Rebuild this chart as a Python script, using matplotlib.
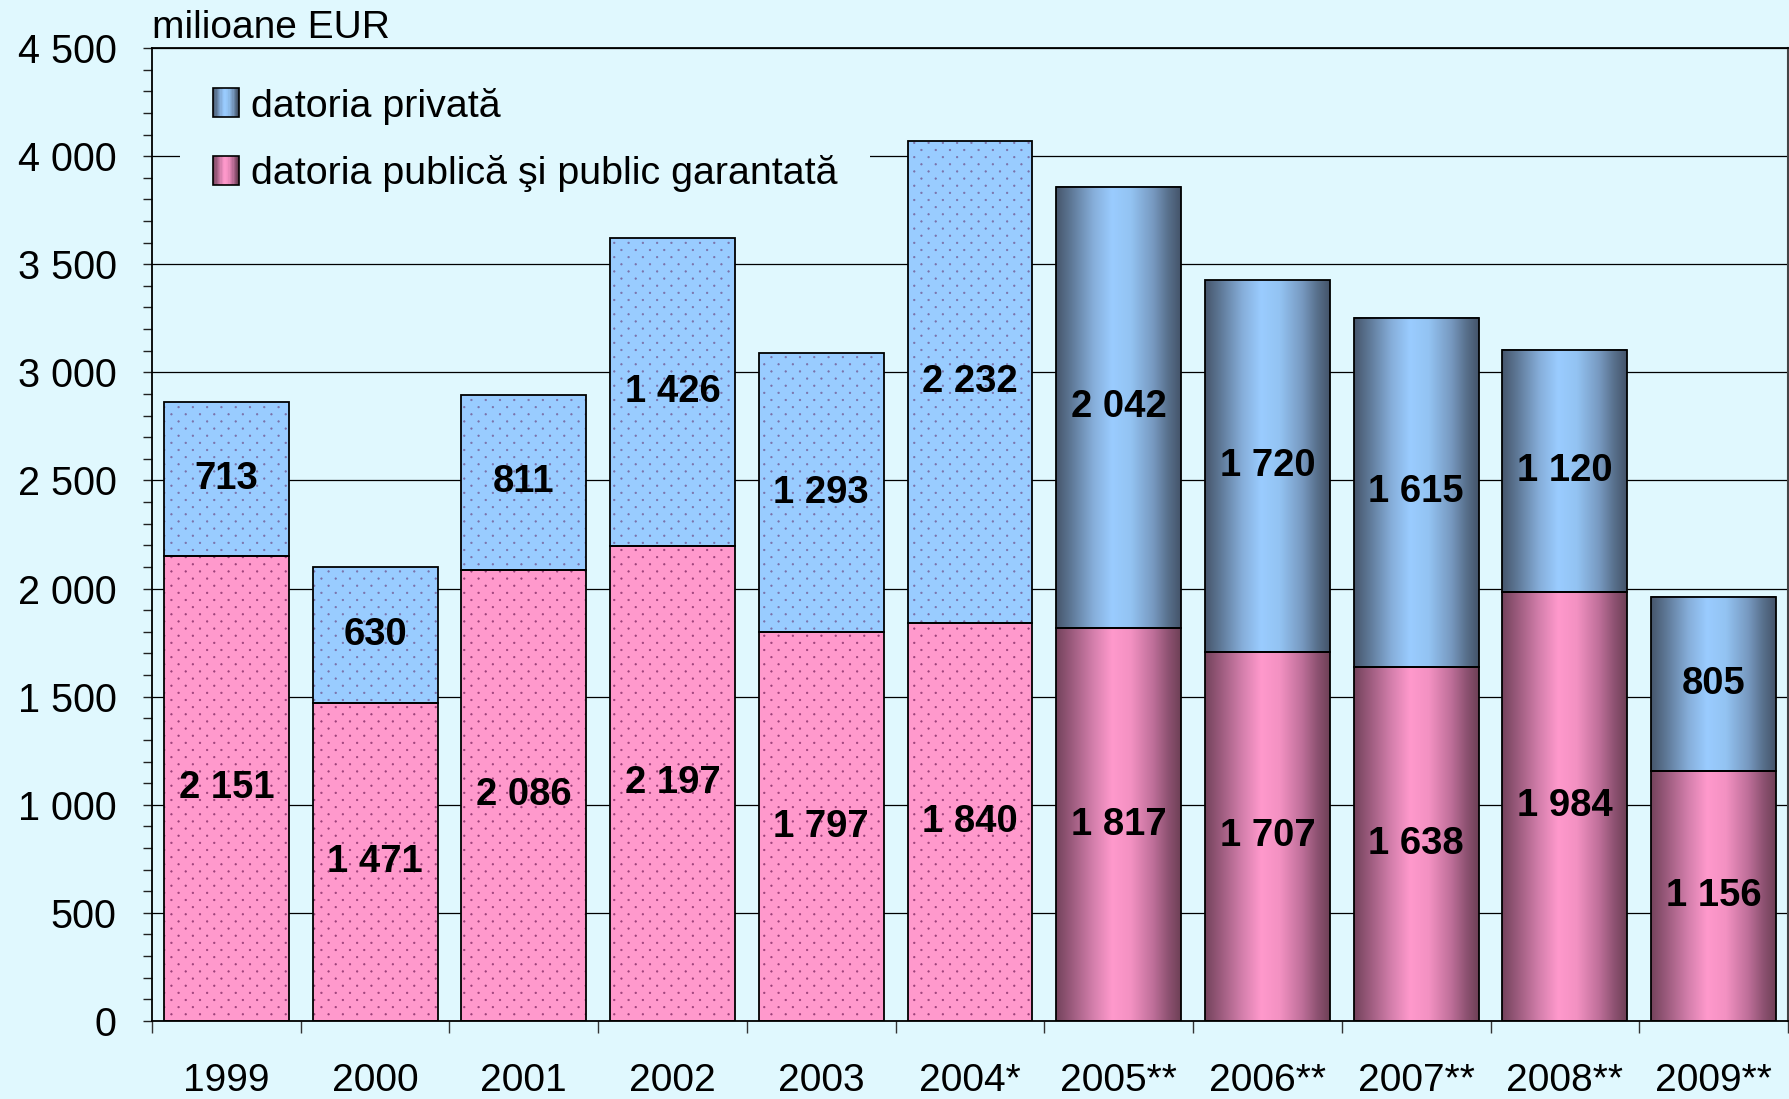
import numpy as np
import matplotlib
matplotlib.use("Agg")
import matplotlib.pyplot as plt
import matplotlib.hatch as mhatch
from matplotlib.path import Path
from matplotlib.legend_handler import HandlerBase
from matplotlib.patches import Rectangle
from matplotlib.ticker import MultipleLocator, FixedLocator, FuncFormatter
from matplotlib.colors import to_rgb

# ---------------- data ----------------
years = ["1999", "2000", "2001", "2002", "2003", "2004*",
         "2005**", "2006**", "2007**", "2008**", "2009**"]
public_debt = [2151, 1471, 2086, 2197, 1797, 1840, 1817, 1707, 1638, 1984, 1156]
private_debt = [713, 630, 811, 1426, 1293, 2232, 2042, 1720, 1615, 1120, 805]
series_names = ["datoria privată", "datoria publică şi public garantată"]
unit_label = "milioane EUR"

# ---------------- style ----------------
plt.rcParams['font.family'] = ['Liberation Sans', 'DejaVu Sans']
plt.rcParams['hatch.linewidth'] = 0.5
BG = '#E0F8FE'
PINK = '#FF99CC'
BLUE = '#99CCFF'
PINK_DOT = '#9A3F78'
BLUE_DOT = '#7A70A8'
BLUE_STOPS = [(0.0, '#46566C'), (0.12, '#5E7896'), (0.3, '#86AEDA'),
              (0.45, '#9ACCFF'), (0.6, '#93C3F2'), (0.78, '#7799C0'),
              (0.9, '#58708C'), (1.0, '#44546A')]
PINK_STOPS = [(0.0, '#74435C'), (0.12, '#9A5A7C'), (0.3, '#D47FAC'),
              (0.45, '#FF99CC'), (0.6, '#F391C2'), (0.78, '#BE6F99'),
              (0.9, '#8E5272'), (1.0, '#6E4056')]


class SparseDots(mhatch.HatchPatternBase):
    """Staggered small filled dots, wider spacing across than down."""
    ncols = 7
    nrows = 14
    radius = 0.0075

    def __init__(self, hatch, density):
        circ = Path.unit_circle()
        self.shape_vertices = circ.vertices
        self.shape_codes = circ.codes
        if hatch.count('.') == 0:
            self.num_vertices = 0
        else:
            n_even = self.nrows // 2 + 1
            n_odd = self.nrows // 2
            n_shapes = n_even * (self.ncols + 1) + n_odd * self.ncols
            self.num_vertices = n_shapes * len(self.shape_vertices)

    def set_vertices_and_codes(self, vertices, codes):
        v = self.shape_vertices * self.radius
        pv, pc = [], []
        for r in range(self.nrows + 1):
            if r % 2 == 0:
                cols = np.linspace(0, 1, self.ncols + 1)
            else:
                cols = (np.arange(self.ncols) + 0.5) / self.ncols
            for c in cols:
                pv.append(v + [c, r / self.nrows])
                pc.append(self.shape_codes)
        np.concatenate(pv, out=vertices)
        np.concatenate(pc, out=codes)


mhatch._hatch_types = [SparseDots if t is mhatch.SmallFilledCircles else t
                       for t in mhatch._hatch_types]


def gradient_colors(stops, n):
    pos = np.array([s[0] for s in stops])
    cols = np.array([to_rgb(s[1]) for s in stops])
    t = np.linspace(0, 1, n)
    return np.stack([np.interp(t, pos, cols[:, c]) for c in range(3)], axis=1)


def fmt(v):
    return f"{int(round(v)):,}".replace(",", " ")


class GradHandler(HandlerBase):
    def __init__(self, stops):
        super().__init__()
        self.stops = stops

    def create_artists(self, legend, orig_handle, xdescent, ydescent,
                       width, height, fontsize, trans):
        n = 20
        cols = gradient_colors(self.stops, n)
        arts = []
        for i in range(n):
            arts.append(Rectangle((-xdescent + i * width / n, -ydescent),
                                  width / n * 1.05, height, facecolor=cols[i],
                                  edgecolor='none', transform=trans))
        arts.append(Rectangle((-xdescent, -ydescent), width, height, fill=False,
                              edgecolor='black', lw=1.2, transform=trans))
        return arts


pub = np.array(public_debt, dtype=float)
priv = np.array(private_debt, dtype=float)
x = np.arange(len(years))
width = 0.84
is_grad = np.array(['**' in y for y in years])
is_dot = ~is_grad

fig = plt.figure(figsize=(17.9, 10.99), dpi=100, facecolor=BG)
ax = fig.add_axes([0.0849, 0.0710, 0.9140, 0.8853])
ax.set_facecolor(BG)

# dotted bars
ax.bar(x[is_dot], pub[is_dot], width, color=PINK, edgecolor=PINK_DOT,
       linewidth=0, hatch='.', zorder=2)
ax.bar(x[is_dot], priv[is_dot], width, bottom=pub[is_dot], color=BLUE,
       edgecolor=BLUE_DOT, linewidth=0, hatch='.', zorder=2)

# gradient bars
g_pub = ax.bar(x[is_grad], pub[is_grad], width, color='none', linewidth=0, zorder=2)
g_priv = ax.bar(x[is_grad], priv[is_grad], width, bottom=pub[is_grad],
                color='none', linewidth=0, zorder=2)
pink_img = gradient_colors(PINK_STOPS, 256)[None, :, :]
blue_img = gradient_colors(BLUE_STOPS, 256)[None, :, :]
for bars, img in ((g_pub, pink_img), (g_priv, blue_img)):
    for p in bars.patches:
        x0, y0 = p.get_x(), p.get_y()
        ax.imshow(img, extent=(x0, x0 + p.get_width(), y0, y0 + p.get_height()),
                  aspect='auto', interpolation='bilinear', zorder=2)

# outlines
ax.bar(x, pub, width, fill=False, edgecolor='black', linewidth=1.3, zorder=3)
ax.bar(x, priv, width, bottom=pub, fill=False, edgecolor='black', linewidth=1.3, zorder=3)

# value labels
for i in range(len(years)):
    ax.text(x[i], pub[i] / 2, fmt(pub[i]), ha='center', va='center',
            fontsize=27.5, fontweight='bold', color='black', zorder=4)
    ax.text(x[i], pub[i] + priv[i] / 2, fmt(priv[i]), ha='center', va='center',
            fontsize=27.5, fontweight='bold', color='black', zorder=4)

# axes
ax.set_xlim(-0.5, len(years) - 0.5)
ax.set_ylim(0, 4500)
ax.set_xticks(x)
ax.set_xticklabels(years)
ax.xaxis.set_minor_locator(FixedLocator(np.arange(-0.5, len(years), 1.0)))
ax.tick_params(axis='x', which='major', length=0, pad=30, labelsize=28)
ax.tick_params(axis='x', which='minor', length=8.6, width=1, color='#333333',
               direction='out')
ax.yaxis.set_major_locator(MultipleLocator(500))
ax.yaxis.set_minor_locator(MultipleLocator(100))
ax.yaxis.set_major_formatter(FuncFormatter(lambda v, p: fmt(v)))
ax.tick_params(axis='y', which='both', length=6.5, width=1, direction='out',
               color='#222222')
ax.tick_params(axis='y', which='major', pad=19, labelsize=28.5)

ax.yaxis.grid(True, which='major', color='black', linewidth=0.9)
ax.set_axisbelow(True)
for s in ('left', 'bottom', 'top'):
    ax.spines[s].set_color('black')
    ax.spines[s].set_linewidth(1.3)
ax.spines['right'].set_color('#444444')
ax.spines['right'].set_linewidth(1.5)

# legend
h_priv = Rectangle((0, 0), 1, 1)
h_pub = Rectangle((0, 0), 1, 1)
ax.legend(handles=[h_priv, h_pub], labels=series_names,
          handler_map={h_priv: GradHandler(BLUE_STOPS), h_pub: GradHandler(PINK_STOPS)},
          loc='upper left', bbox_to_anchor=(0.0171, 0.993), fontsize=28.4,
          frameon=True, facecolor=BG, edgecolor='none', framealpha=1,
          fancybox=False, handlelength=0.66, handleheight=0.76,
          handletextpad=0.3, labelspacing=0.78, borderpad=0.83,
          borderaxespad=0)

fig.text(152 / 1790, 1 - 38 / 1099, unit_label, fontsize=28, ha='left', va='baseline')

fig.savefig('out.png', dpi=100, facecolor=BG)
